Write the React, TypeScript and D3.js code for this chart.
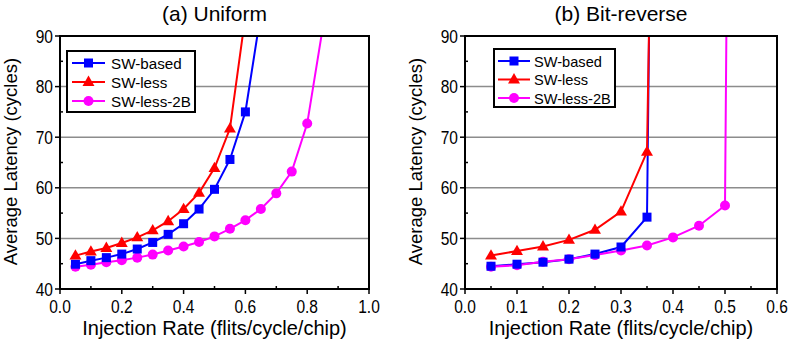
import React from "react";
import * as d3 from "d3";

// (a) Uniform
const uniformRates = [0.05, 0.1, 0.15, 0.2, 0.25, 0.3, 0.35, 0.4, 0.45, 0.5, 0.55, 0.6, 0.65, 0.7, 0.75, 0.8, 0.85];
const uniformSwBased = [44.9, 45.6, 46.2, 46.9, 47.9, 49.2, 50.8, 52.9, 55.8, 59.7, 65.6, 75.0, 94.5];
const uniformSwLess = [46.6, 47.4, 48.1, 49.1, 50.2, 51.6, 53.4, 55.8, 59.0, 63.9, 71.7, 94];
const uniformSwLess2B = [44.4, 44.8, 45.3, 45.7, 46.2, 46.8, 47.6, 48.4, 49.3, 50.4, 51.9, 53.6, 55.8, 58.9, 63.2, 72.7, 91.5];

// (b) Bit-reverse
const bitRates = [0.05, 0.1, 0.15, 0.2, 0.25, 0.3, 0.35, 0.4, 0.45, 0.5];
const bitSwBased = [44.5, 44.9, 45.3, 45.9, 46.9, 48.3, 54.2];
const bitSwLess = [46.6, 47.5, 48.4, 49.7, 51.7, 55.3, 67.1];
const bitSwLess2B = [44.4, 44.7, 45.4, 45.9, 46.7, 47.6, 48.6, 50.2, 52.5, 56.5];
// saturation points (above the plotted range)
const bitSwBasedTail = { rate: 0.355, value: 100 };
const bitSwLessTail = { rate: 0.354, value: 92 };
const bitSwLess2BTail = { rate: 0.503, value: 95 };

const seriesNames = ["SW-based", "SW-less", "SW-less-2B"];
const seriesColors = ["#0000ff", "#ff0000", "#ff00ff"];
const yTicks = [40, 50, 60, 70, 80, 90];

type Pt = [number, number];

const zip = (xs: number[], ys: number[]): Pt[] => ys.map((y, i) => [xs[i], y]);

const panels = [
  {
    id: "a",
    title: "(a) Uniform",
    left: 60,
    right: 369,
    xMax: 1.0,
    xTicks: [0, 0.2, 0.4, 0.6, 0.8, 1.0],
    xMinor: [0.1, 0.3, 0.5, 0.7, 0.9],
    series: [
      zip(uniformRates, uniformSwBased),
      zip(uniformRates, uniformSwLess),
      zip(uniformRates, uniformSwLess2B),
    ],
    legend: { x: 67, y: 51, w: 128, h: 61, rowY: [63, 82, 101], lineX: [72, 105], textX: 111, fs: 15.2 },
  },
  {
    id: "b",
    title: "(b) Bit-reverse",
    left: 465,
    right: 777,
    xMax: 0.6,
    xTicks: [0, 0.1, 0.2, 0.3, 0.4, 0.5, 0.6],
    xMinor: [0.05, 0.15, 0.25, 0.35, 0.45, 0.55],
    series: [
      [...zip(bitRates, bitSwBased), [bitSwBasedTail.rate, bitSwBasedTail.value] as Pt],
      [...zip(bitRates, bitSwLess), [bitSwLessTail.rate, bitSwLessTail.value] as Pt],
      [...zip(bitRates, bitSwLess2B), [bitSwLess2BTail.rate, bitSwLess2BTail.value] as Pt],
    ],
    legend: { x: 494, y: 49, w: 121, h: 58, rowY: [61, 79.5, 98], lineX: [498, 530], textX: 534, fs: 14.6 },
  },
];

const top = 36;
const bottom = 289;
const font = "'Liberation Sans', Arial, Helvetica, sans-serif";

function Marker({ kind, x, y, color }: { kind: number; x: number; y: number; color: string }) {
  if (kind === 0) return <rect x={x - 4.5} y={y - 4.5} width={9} height={9} fill={color} />;
  if (kind === 1) {
    const sym = d3.symbol().type(d3.symbolTriangle).size(62)();
    return <path d={sym || ""} transform={`translate(${x},${y + 0.5})`} fill={color} />;
  }
  return <circle cx={x} cy={y} r={5} fill={color} />;
}

// condensed tick label (the original uses a narrow sans)
function Narrow({ x, y, anchor, size, children }: { x: number; y: number; anchor: string; size: number; children: React.ReactNode }) {
  return (
    <text transform={`translate(${x},${y}) scale(0.84,1)`} textAnchor={anchor} fontFamily={font} fontSize={size}>
      {children}
    </text>
  );
}

function Panel({ p }: { p: (typeof panels)[number] }) {
  const x = d3.scaleLinear().domain([0, p.xMax]).range([p.left, p.right]);
  const y = d3.scaleLinear().domain([40, 90]).range([bottom, top]);
  const line = d3
    .line<Pt>()
    .x((d) => x(d[0]))
    .y((d) => y(d[1]));
  const yMinor = d3.range(45, 90, 10);
  const cx = (p.left + p.right) / 2;
  const clipId = `clip-${p.id}`;
  const lg = p.legend;
  return (
    <g>
      <defs>
        <clipPath id={clipId}>
          <rect x={p.left} y={top} width={p.right - p.left} height={bottom - top} />
        </clipPath>
      </defs>
      <text x={cx} y={21} textAnchor="middle" fontFamily={font} fontSize={21}>
        {p.title}
      </text>
      {/* grid */}
      {yTicks.slice(1, -1).map((t) => (
        <line key={t} x1={p.left} x2={p.right} y1={y(t)} y2={y(t)} stroke="#8c8c8c" strokeWidth={1.5} />
      ))}
      {/* data */}
      <g clipPath={`url(#${clipId})`}>
        {p.series.map((s, i) => (
          <path key={i} d={line(s) || ""} fill="none" stroke={seriesColors[i]} strokeWidth={2} />
        ))}
      </g>
      {[2, 0, 1].map((i) =>
        p.series[i]
          .filter((d) => d[1] <= 90)
          .map((d, j) => <Marker key={`${i}-${j}`} kind={i} x={x(d[0])} y={y(d[1])} color={seriesColors[i]} />)
      )}
      {/* frame */}
      <rect x={p.left} y={top} width={p.right - p.left} height={bottom - top} fill="none" stroke="#000" strokeWidth={2} />
      {/* y ticks */}
      {yTicks.map((t) => (
        <g key={t}>
          <line x1={p.left - 5} x2={p.left} y1={y(t)} y2={y(t)} stroke="#000" strokeWidth={1.5} />
          <Narrow x={p.left - 7} y={y(t) + 6.5} anchor="end" size={18.5}>
            {t}
          </Narrow>
        </g>
      ))}
      {yMinor.map((t) => (
        <line key={t} x1={p.left} x2={p.left + 3} y1={y(t)} y2={y(t)} stroke="#000" strokeWidth={1.5} />
      ))}
      {/* x ticks */}
      {p.xTicks.map((t) => (
        <g key={t}>
          <line x1={x(t)} x2={x(t)} y1={bottom} y2={bottom + 5} stroke="#000" strokeWidth={1.5} />
          <Narrow x={x(t)} y={bottom + 24} anchor="middle" size={18.5}>
            {d3.format(".1f")(t)}
          </Narrow>
        </g>
      ))}
      {p.xMinor.map((t) => (
        <line key={t} x1={x(t)} x2={x(t)} y1={bottom} y2={bottom - 3} stroke="#000" strokeWidth={1.5} />
      ))}
      {/* axis titles */}
      <text x={cx} y={bottom + 46} textAnchor="middle" fontFamily={font} fontSize={20}>
        Injection Rate (flits/cycle/chip)
      </text>
      <text
        transform={`translate(${p.left - 43},${(top + bottom) / 2 - 1}) rotate(-90)`}
        textAnchor="middle"
        fontFamily={font}
        fontSize={18.5}
      >
        Average Latency (cycles)
      </text>
      {/* legend */}
      <rect x={lg.x} y={lg.y} width={lg.w} height={lg.h} fill="#fff" stroke="#000" strokeWidth={2} />
      {seriesNames.map((name, i) => (
        <g key={name}>
          <line x1={lg.lineX[0]} x2={lg.lineX[1]} y1={lg.rowY[i]} y2={lg.rowY[i]} stroke={seriesColors[i]} strokeWidth={2} />
          <Marker kind={i} x={(lg.lineX[0] + lg.lineX[1]) / 2} y={lg.rowY[i]} color={seriesColors[i]} />
          <text x={lg.textX} y={lg.rowY[i] + 5.5} fontFamily={font} fontSize={lg.fs}>
            {name}
          </text>
        </g>
      ))}
    </g>
  );
}

export default function App() {
  return (
    <svg width={789} height={343} style={{ position: "absolute", left: 0, top: 0, background: "#fff" }}>
      {panels.map((p) => (
        <Panel key={p.id} p={p} />
      ))}
    </svg>
  );
}
